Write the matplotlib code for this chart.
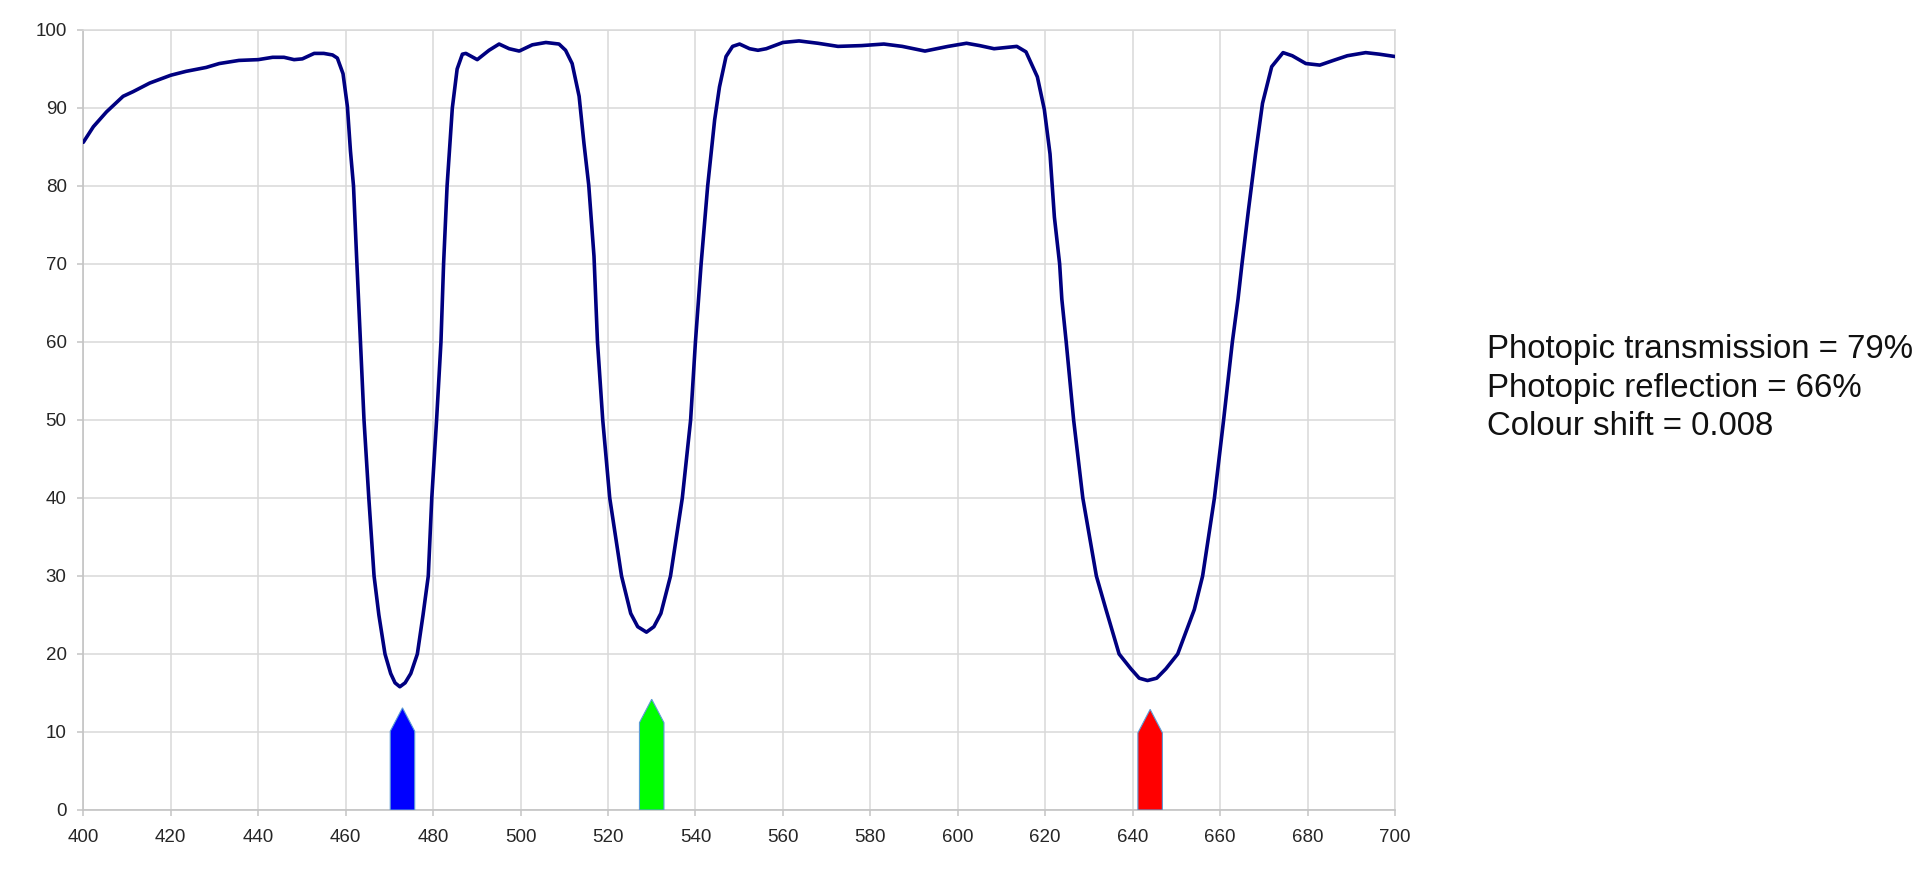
import matplotlib
matplotlib.use("Agg")
import matplotlib.pyplot as plt
from matplotlib.patches import Polygon

# ---- data ----
wavelength = [400, 402.3, 405.3, 409.1, 411.4, 415.2, 420, 423.5, 428.1, 431.1, 435.6, 440,
              443.3, 445.9, 448.2, 450.1, 452.8, 455, 457.0, 458.1, 459.4, 460.4, 461.1, 461.8,
              462.5, 463.4, 464.2, 465.3, 466.5, 467.6, 469.0, 470.3, 471.3, 472.4, 473.6, 474.9,
              476.4, 477.7, 478.9, 479.7, 480.8, 481.8, 482.4, 483.2, 484.4, 485.5, 486.7, 487.5,
              490.1, 492.8, 495.1, 497.4, 499.7, 502.7, 505.8, 508.8, 510.3, 511.8, 513.4, 514.5,
              515.6, 516.8, 517.6, 518.8, 520.4, 523.1, 525.2, 526.8, 528.8, 530.5, 532.1, 534.3,
              537.0, 538.9, 540.0, 541.3, 542.8, 544.4, 545.5, 547.0, 548.5, 550.1, 552.4, 554.3,
              556.2, 560.0, 563.7, 568, 572.6, 578, 583.1, 587.3, 592.5, 597.8, 602.0, 605,
              608.3, 613.5, 615.6, 618.2, 619.8, 621.1, 622.1, 623.3, 623.8, 624.8, 626.5, 628.6,
              631.7, 633.9, 636.9, 639.6, 641.5, 643.4, 645.5, 647.6, 650.3, 654.1, 656.0, 658.7,
              660.8, 662.8, 664.1, 665.0, 666.5, 668.1, 669.7, 671.8, 674.4, 676.5, 679.6, 682.8,
              685.9, 689.1, 693.3, 696.4, 700]
transmission = [85.6, 87.6, 89.5, 91.5, 92.1, 93.2, 94.2, 94.7, 95.2, 95.7, 96.1, 96.2,
                96.5, 96.5, 96.2, 96.3, 97.0, 97.0, 96.8, 96.4, 94.4, 90.2, 84.5, 80,
                71, 60, 50, 40, 30, 25, 20, 17.5, 16.3, 15.8, 16.3, 17.5,
                20, 25, 30, 40, 50, 60, 70, 80, 90, 95, 96.9, 97.0,
                96.2, 97.4, 98.2, 97.6, 97.3, 98.1, 98.4, 98.2, 97.4, 95.7, 91.5, 85.5,
                80.1, 71, 60, 50, 40, 30, 25.2, 23.5, 22.8, 23.5, 25.2, 30,
                40, 50, 60, 70, 80, 88.5, 92.7, 96.6, 97.9, 98.2, 97.6, 97.4,
                97.6, 98.4, 98.6, 98.3, 97.9, 98.0, 98.2, 97.9, 97.3, 97.9, 98.3, 98.0,
                97.6, 97.9, 97.2, 94.0, 89.8, 84.1, 76, 70, 65.5, 60, 50, 40,
                30, 25.7, 20, 18.1, 16.9, 16.6, 16.9, 18.1, 20, 25.7, 30, 40,
                50, 60, 65.5, 70, 77, 84.1, 90.6, 95.3, 97.1, 96.7, 95.7, 95.5,
                96.1, 96.7, 97.1, 96.9, 96.6]

marker_wavelengths = [473, 530, 644]
marker_heights = [13.1, 14.2, 12.9]
marker_colors = ["#0000ff", "#00ff00", "#ff0000"]

x_ticks = list(range(400, 701, 20))
y_ticks = list(range(0, 101, 10))

info_lines = ["Photopic transmission = 79%",
              "Photopic reflection = 66%",
              "Colour shift = 0.008"]

# ---- figure ----
plt.rcParams['font.family'] = ['Liberation Sans', 'DejaVu Sans']
fig = plt.figure(figsize=(19.2, 8.74), dpi=100)
ax = fig.add_axes([83.3 / 1920, 64 / 874, (1395 - 83.3) / 1920, 780 / 874])

ax.set_xlim(400, 700)
ax.set_ylim(0, 100)
ax.set_xticks(x_ticks)
ax.set_yticks(y_ticks)
ax.grid(True, color="#d9d9d9", linewidth=1.1)
ax.set_axisbelow(True)
for side in ["top", "right"]:
    ax.spines[side].set_color("#d9d9d9")
    ax.spines[side].set_linewidth(1.1)
for side in ["left", "bottom"]:
    ax.spines[side].set_color("#c4c4c4")
    ax.spines[side].set_linewidth(1.2)
ax.tick_params(axis="both", colors="#c4c4c4", labelcolor="#262626",
               labelsize=13.5, length=4, width=1.1)
ax.tick_params(axis="y", pad=8)
ax.tick_params(axis="x", pad=9.5)

# arrows marking primary wavelengths
half_w = 2.8
for wl, h, col in zip(marker_wavelengths, marker_heights, marker_colors):
    shoulder = h - 3.0
    pts = [(wl - half_w, 0), (wl + half_w, 0), (wl + half_w, shoulder),
           (wl, h), (wl - half_w, shoulder)]
    ax.add_patch(Polygon(pts, closed=True, facecolor=col,
                         edgecolor="#5b9bd5", linewidth=0.8, zorder=3))

ax.plot(wavelength, transmission, color="#000080", linewidth=2.6,
        solid_joinstyle="round", solid_capstyle="round", zorder=4)

baselines = [358, 397, 435]
for line, yb in zip(info_lines, baselines):
    fig.text(1487 / 1920, 1 - yb / 874, line, fontsize=23.8,
             color="#111111", ha="left", va="baseline")

fig.savefig("out.png", dpi=100)
